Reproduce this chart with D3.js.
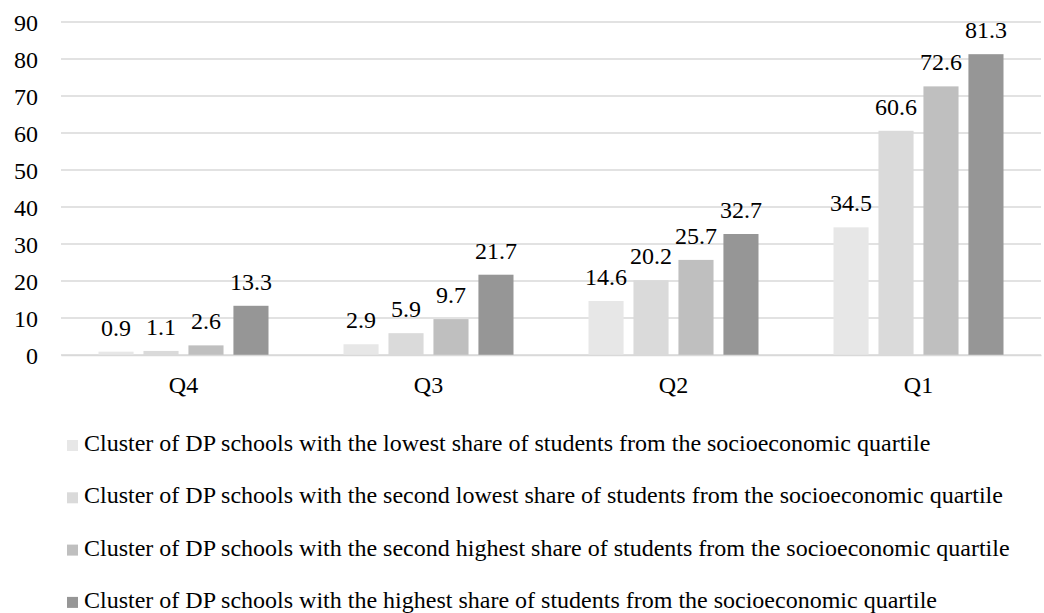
<!DOCTYPE html>
<html>
<head>
  <meta charset="utf-8">
  <title>DP schools by socioeconomic quartile</title>
  <script src="https://d3js.org/d3.v7.min.js"></script>
  <style>
    body { margin: 0; background: #fff; }
    svg text { font-family: "Liberation Serif", "Times New Roman", Times, serif; fill: #000; }
    .grid line { stroke: #d9d9d9; stroke-width: 1.5; }
  </style>
</head>
<body>
  <svg width="1044" height="613"></svg>
  <script>
    // Data
    const quartiles = ["Q4", "Q3", "Q2", "Q1"];
    const seriesNames = [
      "Cluster of DP schools with the lowest share of students from the socioeconomic quartile",
      "Cluster of DP schools with the second lowest share of students from the socioeconomic quartile",
      "Cluster of DP schools with the second highest share of students from the socioeconomic quartile",
      "Cluster of DP schools with the highest share of students from the socioeconomic quartile"
    ];
    const lowest = [0.9, 2.9, 14.6, 34.5];
    const secondLowest = [1.1, 5.9, 20.2, 60.6];
    const secondHighest = [2.6, 9.7, 25.7, 72.6];
    const highest = [13.3, 21.7, 32.7, 81.3];
    const yTicks = [0, 10, 20, 30, 40, 50, 60, 70, 80, 90];
    const colors = ["#e7e7e7", "#dadada", "#bfbfbf", "#969696"];

    const seriesValues = [lowest, secondLowest, secondHighest, highest];
    const FONT = '"Liberation Serif", "Times New Roman", Times, serif';

    const margin = { top: 22, left: 61, right: 3 };
    const width = 1044 - margin.left - margin.right;
    const plotHeight = 333;

    const svg = d3.select("svg");
    const g = svg.append("g")
      .attr("transform", `translate(${margin.left},${margin.top})`);

    const x = d3.scaleBand()
      .domain(quartiles)
      .range([0, width]);

    const xInner = d3.scaleBand()
      .domain(d3.range(seriesNames.length))
      .range([37.5, x.bandwidth() - 37.5])
      .paddingInner(0.22);

    const y = d3.scaleLinear()
      .domain([0, 90])
      .range([plotHeight, 0]);

    // gridlines
    g.append("g")
      .attr("class", "grid")
      .selectAll("line")
      .data(yTicks)
      .join("line")
      .attr("x1", 0)
      .attr("x2", width)
      .attr("y1", d => y(d))
      .attr("y2", d => y(d));

    // y axis labels
    const yAxis = g.append("g")
      .call(d3.axisLeft(y).tickValues(yTicks).tickSize(0).tickPadding(23))
      .attr("font-family", FONT);
    yAxis.select(".domain").remove();
    yAxis.selectAll("text")
      .attr("dy", "0.34em")
      .style("font-size", "24px");

    // bars
    const groups = g.selectAll(".quartile")
      .data(quartiles)
      .join("g")
      .attr("class", "quartile")
      .attr("transform", d => `translate(${x(d)},0)`);

    groups.each(function(q, qi) {
      const grp = d3.select(this);
      const vals = seriesValues.map((s, si) => ({ si, v: s[qi] }));
      grp.selectAll("rect")
        .data(vals)
        .join("rect")
        .attr("x", d => xInner(d.si))
        .attr("width", xInner.bandwidth())
        .attr("y", d => y(d.v))
        .attr("height", d => y(0) - y(d.v))
        .attr("fill", d => colors[d.si]);
      grp.selectAll(".lbl")
        .data(vals)
        .join("text")
        .attr("class", "lbl")
        .attr("x", d => xInner(d.si) + xInner.bandwidth() / 2)
        .attr("y", d => y(d.v) - 16)
        .attr("text-anchor", "middle")
        .style("font-size", "24px")
        .text(d => d.v.toFixed(1));
    });

    // x axis
    const xAxis = g.append("g")
      .attr("transform", `translate(0,${plotHeight})`)
      .call(d3.axisBottom(x).tickSize(0).tickPadding(0))
      .attr("font-family", FONT);
    xAxis.select(".domain").attr("stroke", "#d9d9d9").attr("stroke-width", 1.5);
    xAxis.selectAll("text")
      .attr("y", 38)
      .attr("dy", null)
      .style("font-size", "24px");

    // legend
    const legend = svg.append("g")
      .attr("transform", "translate(67,451)");
    const items = legend.selectAll("g")
      .data(seriesNames)
      .join("g")
      .attr("transform", (d, i) => `translate(0,${i * 52.3})`);
    items.append("rect")
      .attr("x", 0)
      .attr("y", -11)
      .attr("width", 11)
      .attr("height", 11)
      .attr("fill", (d, i) => colors[i]);
    items.append("text")
      .attr("x", 17)
      .style("font-size", "24px")
      .text(d => d);
  </script>
</body>
</html>
